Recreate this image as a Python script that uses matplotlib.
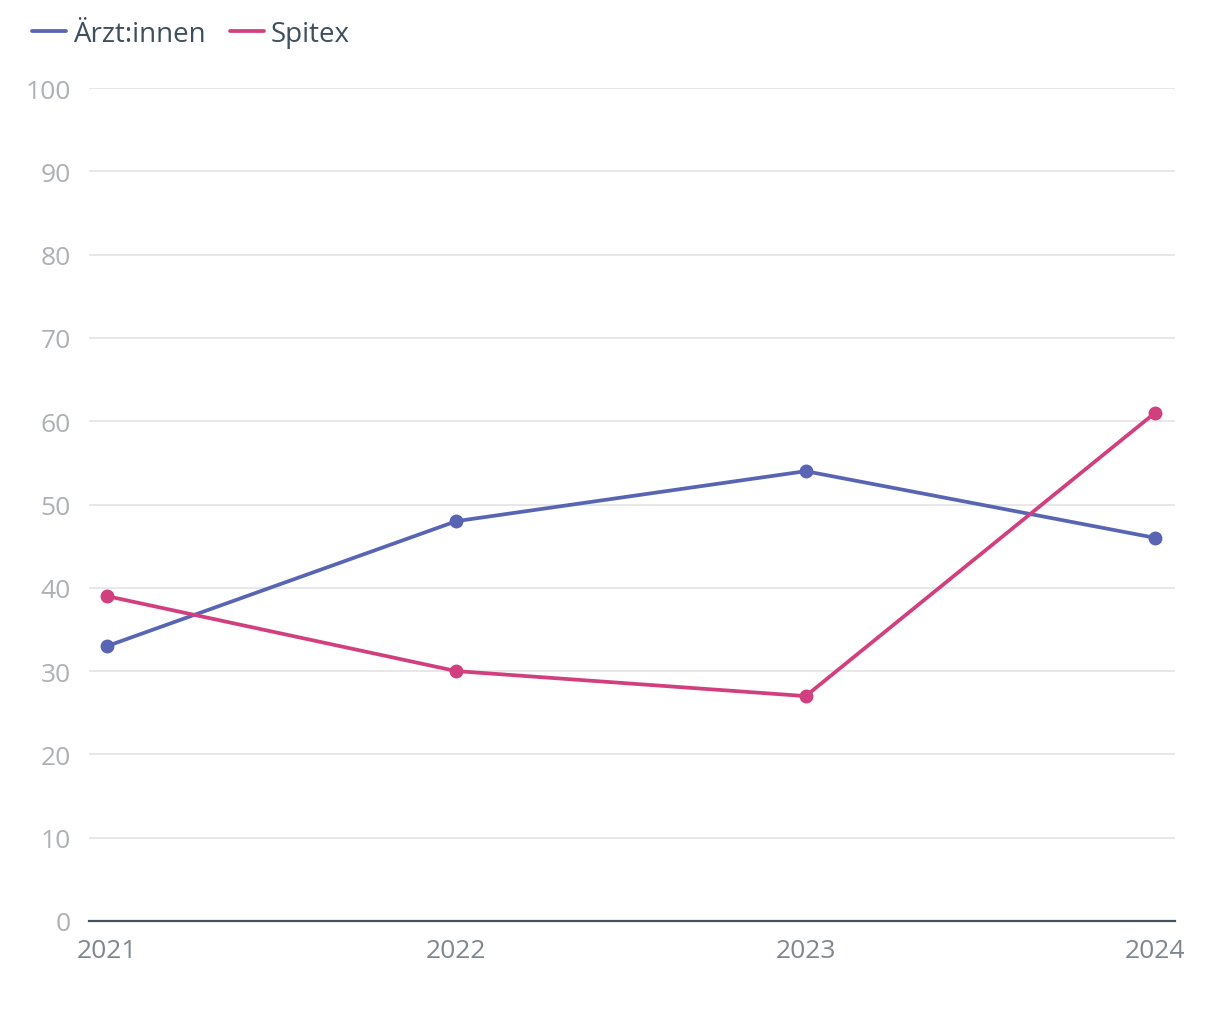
import matplotlib.pyplot as plt

years = [2021, 2022, 2023, 2024]
aerzte = [33, 48, 54, 46]
spitex = [39, 30, 27, 61]
series_names = ['Ärzt:innen', 'Spitex']
series_colors = ['#5965b3', '#d13f7f']
y_ticks = list(range(0, 101, 10))

plt.rcParams['font.family'] = ['Open Sans', 'DejaVu Sans']

fig = plt.figure(figsize=(12.2, 10.2), dpi=100)
ax = fig.add_axes([89 / 1220, 1 - 922 / 1020, (1175 - 89) / 1220, (922 - 89) / 1020])

for vals, name, col in zip([aerzte, spitex], series_names, series_colors):
    ax.plot(years, vals, color=col, lw=2.7, marker='o', markersize=9,
            label=name, solid_capstyle='round', zorder=3)

ax.set_xlim(2021 - 18 / 349.33, 2024 + 20 / 349.33)
ax.set_ylim(0, 100)
ax.set_yticks(y_ticks)
ax.set_xticks(years)
ax.grid(axis='y', color='#e6e6e6', lw=1.3)
ax.set_axisbelow(True)
for s in ['top', 'right', 'left']:
    ax.spines[s].set_visible(False)
ax.spines['bottom'].set_color('#45525e')
ax.spines['bottom'].set_linewidth(1.6)
ax.tick_params(axis='y', length=0, pad=13, labelsize=19, labelcolor='#adb1b6')
ax.tick_params(axis='x', length=0, pad=12, labelsize=19, labelcolor='#7f868d')

fig.legend(loc='upper left', bbox_to_anchor=(0.006, 1.004), ncol=2, frameon=False,
           fontsize=20, labelcolor='#3d4f5c', handlelength=1.2, handletextpad=0.25,
           columnspacing=0.9, markerscale=0)

fig.savefig('out.png', dpi=100)
